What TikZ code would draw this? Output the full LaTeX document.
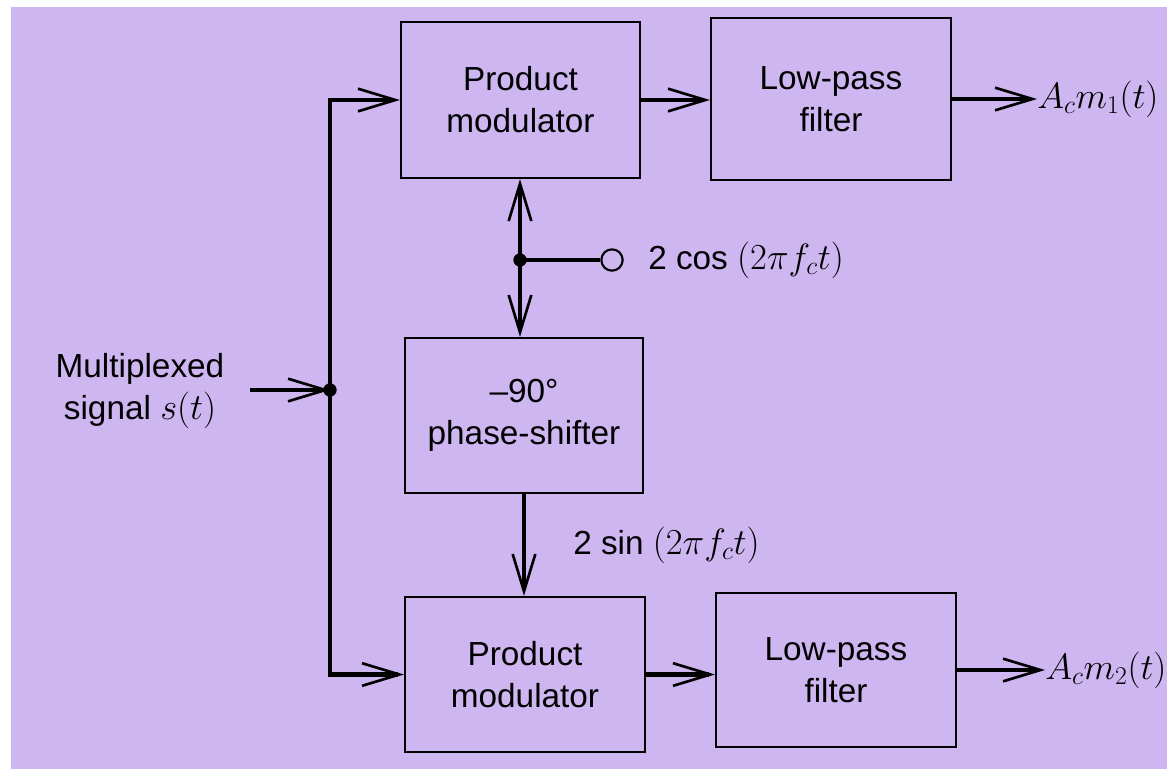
\documentclass[tikz,border=0pt]{standalone}
\usepackage{fix-cm}
\usepackage{fontspec}
\setmainfont{Liberation Sans}
\usetikzlibrary{arrows.meta}
\definecolor{lav}{RGB}{206,182,241}
\newcommand{\mth}[1]{{\fontsize{27.5}{31.5}\selectfont$#1$}}
\tikzset{
  blk/.style={draw, line width=1.6pt, minimum width=#1, align=center, inner sep=0pt},
  conn/.style={line width=3.6pt, -{Straight Barb[length=28pt,width=17pt,line width=2pt]}},
  plain/.style={line width=3.6pt},
  lbl/.style={align=center, inner sep=0pt},
  dotn/.style={circle, fill=black, inner sep=0pt, minimum size=10pt},
}
\begin{document}
\begin{tikzpicture}[x=0.75pt,y=-0.75pt, font=\fontsize{25}{31.5}\selectfont]
\useasboundingbox (0,0) rectangle (1167,769);
\fill[lav] (11,7) rectangle (1167,769);
% blocks
\node[blk=239*0.75pt, minimum height=156*0.75pt] (pm1) at (520.5,100) {Product\\modulator};
\node[blk=240*0.75pt, minimum height=162*0.75pt] (lpf1) at (831,99) {Low-pass\\filter};
\node[blk=238*0.75pt, minimum height=155*0.75pt] (ps) at (524,415.5) {--90°\\phase-shifter};
\node[blk=240*0.75pt, minimum height=155*0.75pt] (pm2) at (525,674.5) {Product\\modulator};
\node[blk=240*0.75pt, minimum height=154*0.75pt] (lpf2) at (836,670) {Low-pass\\filter};
% labels
\node[lbl] (inlab) at (140,391) {Multiplexed\\signal \mth{s(t)}};
\node[lbl, anchor=west] (o1) at (1037,99) {\mth{A_c m_1(t)}};
\node[lbl, anchor=west] (o2) at (1045,670) {\mth{A_c m_2(t)}};
\node[circle, draw, line width=1.6pt, minimum size=16pt, inner sep=0pt] (osc) at (612,260) {};
\node[lbl, anchor=west] (coslab) at (648,260) {2 cos \mth{(2\pi f_c t)}};
\node[lbl, anchor=west] (sinlab) at (573,545) {2 sin \mth{(2\pi f_c t)}};
% coordinates
\coordinate (in) at (250,390);
\node[dotn] (busj) at (330,390) {};
\node[dotn] (loj) at (520,260) {};
% connectors
\draw[conn, line width=3pt] (in) -- (busj.center);
\draw[conn] (busj.center) |- (pm1.west);
\draw[conn] (busj.center) |- (pm2.west);
\draw[conn] (pm1.east) -- (pm1.east -| lpf1.west);
\draw[conn] (pm2.east) -- (pm2.east -| lpf2.west);
\draw[conn] (lpf1.east) -- (o1.west);
\draw[conn] (lpf2.east) -- (lpf2.east -| o2.west) ;
\draw[conn] (loj.center) -- (loj.center |- pm1.south);
\draw[conn] (loj.center) -- (loj.center |- ps.north);
\draw[plain] (loj.center) -- (osc.west);
\draw[conn] (ps.south) -- (ps.south |- pm2.north);
\end{tikzpicture}
\end{document}
